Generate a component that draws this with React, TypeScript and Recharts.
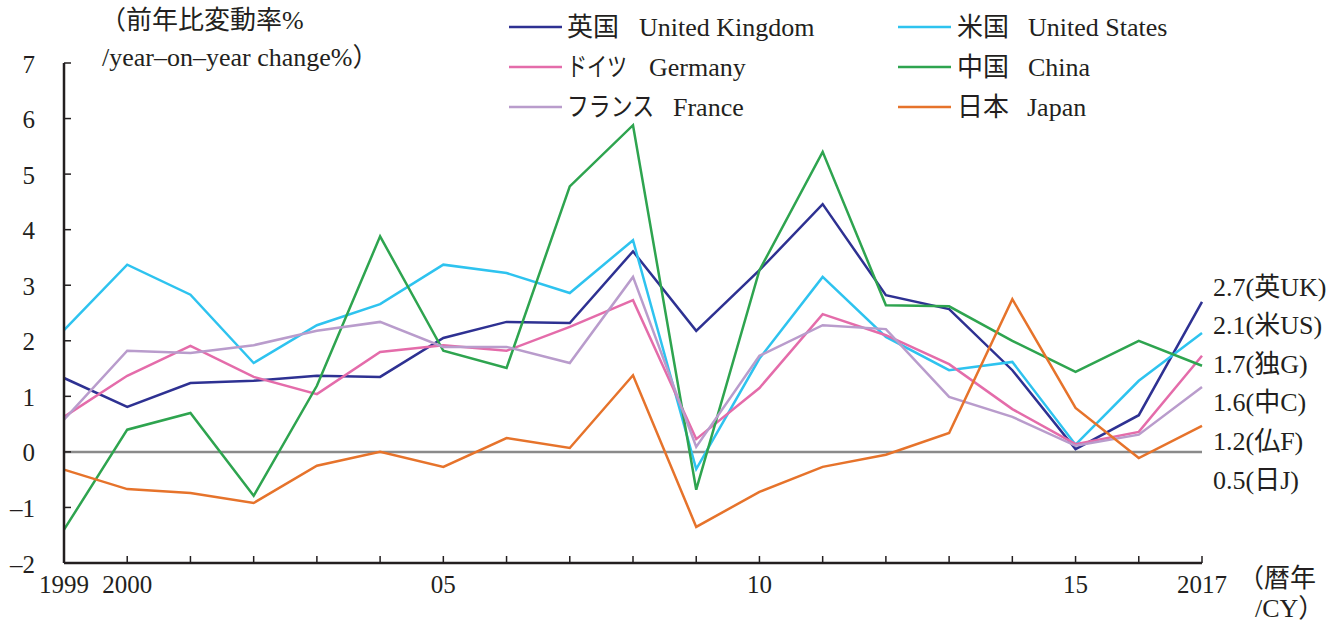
import React from "react";
import { LineChart, Line, XAxis, YAxis, ReferenceLine } from "recharts";

const years = [1999, 2000, 2001, 2002, 2003, 2004, 2005, 2006, 2007, 2008, 2009, 2010, 2011, 2012, 2013, 2014, 2015, 2016, 2017];

const uk = [1.33, 0.81, 1.24, 1.28, 1.37, 1.35, 2.05, 2.34, 2.32, 3.61, 2.18, 3.27, 4.46, 2.82, 2.57, 1.47, 0.05, 0.66, 2.7];
const us = [2.19, 3.37, 2.83, 1.6, 2.28, 2.66, 3.37, 3.22, 2.86, 3.81, -0.31, 1.68, 3.15, 2.07, 1.47, 1.62, 0.13, 1.28, 2.14];
const germany = [0.63, 1.37, 1.91, 1.35, 1.04, 1.8, 1.92, 1.82, 2.25, 2.73, 0.23, 1.15, 2.48, 2.1, 1.58, 0.77, 0.14, 0.36, 1.73];
const china = [-1.4, 0.4, 0.7, -0.79, 1.19, 3.88, 1.82, 1.51, 4.78, 5.88, -0.68, 3.27, 5.4, 2.64, 2.62, 2.0, 1.44, 2.0, 1.55];
const france = [0.58, 1.82, 1.78, 1.92, 2.18, 2.34, 1.89, 1.89, 1.6, 3.15, 0.09, 1.73, 2.28, 2.21, 0.99, 0.63, 0.11, 0.31, 1.17];
const japan = [-0.32, -0.67, -0.74, -0.92, -0.25, 0.0, -0.27, 0.25, 0.07, 1.38, -1.35, -0.72, -0.27, -0.05, 0.34, 2.75, 0.79, -0.11, 0.47];

const yTicks = [-2, -1, 0, 1, 2, 3, 4, 5, 6, 7];
const xLabels: Record<number, string> = { 1999: "1999", 2000: "2000", 2005: "05", 2010: "10", 2015: "15", 2017: "2017" };

const endLabels = ["2.7(英UK)", "2.1(米US)", "1.7(独G)", "1.6(中C)", "1.2(仏F)", "0.5(日J)"];

const series = [
  { key: "uk", jp: "英国", en: "United Kingdom", color: "#2e3192" },
  { key: "us", jp: "米国", en: "United States", color: "#2ec3ef" },
  { key: "germany", jp: "ドイツ", en: "Germany", color: "#e46caa" },
  { key: "china", jp: "中国", en: "China", color: "#2ea44f" },
  { key: "france", jp: "フランス", en: "France", color: "#b99ccc" },
  { key: "japan", jp: "日本", en: "Japan", color: "#e6732b" },
];

// legend layout: line start, jp text x / width, en text x, row y
const legendPos = [
  { x: 509, jx: 567, jw: 52, ex: 639, y: 27 },
  { x: 898, jx: 957, jw: 52, ex: 1028, y: 27 },
  { x: 509, jx: 567, jw: 60, ex: 649, y: 67 },
  { x: 898, jx: 957, jw: 52, ex: 1028, y: 67 },
  { x: 509, jx: 567, jw: 87, ex: 673, y: 107 },
  { x: 898, jx: 957, jw: 52, ex: 1027, y: 107 },
];

const data = years.map((year, i) => ({
  year,
  uk: uk[i],
  us: us[i],
  germany: germany[i],
  china: china[i],
  france: france[i],
  japan: japan[i],
}));

const FONT = "'Liberation Serif', 'Noto Sans CJK JP', serif";
const INK = "#231f20";

const YTick = (props: any) => {
  const { x, y, payload } = props;
  const v = payload.value as number;
  const label = v < 0 ? `\u2013${Math.abs(v)}` : `${v}`;
  return (
    <g>
      <line x1={x} y1={y} x2={x + 7} y2={y} stroke={INK} strokeWidth={1.5} />
      <text x={x - 29} y={y + 1} textAnchor="end" dominantBaseline="central" fontSize={25} fontFamily={FONT} fill={INK}>
        {label}
      </text>
    </g>
  );
};

const XTick = (props: any) => {
  const { x, y, payload } = props;
  const label = xLabels[payload.value as number] || "";
  return (
    <g>
      <line x1={x} y1={y} x2={x} y2={y - 7} stroke={INK} strokeWidth={1.5} />
      {label && (
        <text x={x} y={y + 21} textAnchor="middle" dominantBaseline="central" fontSize={25} fontFamily={FONT} fill={INK}>
          {label}
        </text>
      )}
    </g>
  );
};

export default function App() {
  return (
    <div style={{ position: "absolute", left: 0, top: 0, width: 1337, height: 626, background: "#fff" }}>
      <LineChart width={1337} height={626} data={data} margin={{ top: 63, right: 135, left: 4, bottom: 3 }}>
        <XAxis
          dataKey="year"
          type="number"
          domain={[1999, 2017]}
          ticks={years}
          interval={0}
          height={60}
          tickSize={0}
          tickMargin={0}
          tickLine={false}
          axisLine={{ stroke: INK, strokeWidth: 2.5 }}
          tick={<XTick />}
        />
        <YAxis
          type="number"
          domain={[-2, 7]}
          ticks={yTicks}
          interval={0}
          width={60}
          tickSize={0}
          tickMargin={0}
          tickLine={false}
          axisLine={{ stroke: INK, strokeWidth: 2.5 }}
          tick={<YTick />}
        />
        <ReferenceLine y={0} stroke="#8a8a8a" strokeWidth={2.5} />
        {series.map((s) => (
          <Line
            key={s.key}
            dataKey={s.key}
            name={s.en}
            stroke={s.color}
            strokeWidth={2.5}
            dot={false}
            type="linear"
            isAnimationActive={false}
          />
        ))}
      </LineChart>
      <svg width={1337} height={626} style={{ position: "absolute", left: 0, top: 0, pointerEvents: "none" }}>
        <g fontFamily={FONT} fontSize={26} fill={INK}>
          <text x={100} y={20} dominantBaseline="central">（前年比変動率%</text>
          <text x={102} y={57} dominantBaseline="central">/year–on–year change%）</text>
          {series.map((s, i) => {
            const p = legendPos[i];
            return (
              <g key={s.key}>
                <line x1={p.x} y1={p.y} x2={p.x + 53} y2={p.y} stroke={s.color} strokeWidth={2.5} />
                <text x={p.jx} y={p.y} dominantBaseline="central" textLength={p.jw} lengthAdjust="spacingAndGlyphs">
                  {s.jp}
                </text>
                <text x={p.ex} y={p.y} dominantBaseline="central">{s.en}</text>
              </g>
            );
          })}
          {endLabels.map((t, i) => (
            <text key={t} x={1213} y={287 + i * 38.6} dominantBaseline="central">{t}</text>
          ))}
          <text x={1238} y={578} dominantBaseline="central">（暦年</text>
          <text x={1255} y={608} dominantBaseline="central">/CY）</text>
        </g>
      </svg>
    </div>
  );
}
